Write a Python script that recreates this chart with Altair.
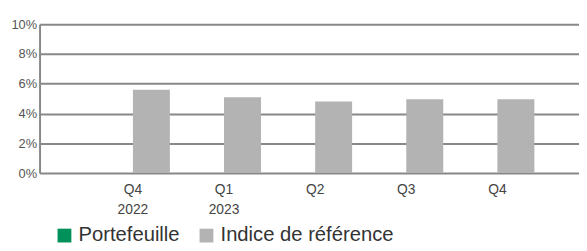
import altair as alt
import pandas as pd

quarters = ["Q4|2022", "Q1|2023", "Q2", "Q3", "Q4"]
series = ["Portefeuille", "Indice de référence"]
portefeuille = [None, None, None, None, None]
indice = [5.6, 5.1, 4.8, 4.95, 4.95]
colors = ["#00915A", "#B3B3B3"]

rows = []
for q, p, i in zip(quarters, portefeuille, indice):
    rows.append({"quarter": q, "series": series[0], "value": p})
    rows.append({"quarter": q, "series": series[1], "value": i})
df = pd.DataFrame(rows)

FONT = "Liberation Sans"

chart = alt.Chart(df).mark_bar().encode(
    x=alt.X("quarter:N", sort=quarters, title=None,
            scale=alt.Scale(paddingInner=0, paddingOuter=0.46, align=0.57),
            axis=alt.Axis(labelExpr="split(datum.label, '|')", labelAngle=0,
                          domain=False, ticks=False, labelPadding=10,
                          labelFont=FONT, labelFontSize=14, labelColor="#444444",
                          labelLineHeight=20, labelBaseline="top")),
    xOffset=alt.XOffset("series:N", sort=series,
                        scale=alt.Scale(domain=series, paddingInner=0, paddingOuter=0.232)),
    y=alt.Y("value:Q", title=None,
            scale=alt.Scale(domain=[0, 10], nice=False),
            axis=alt.Axis(values=[0, 2, 4, 6, 8, 10], labelExpr="datum.value + '%'",
                          ticks=False, domain=True, domainColor="#888888", domainWidth=2,
                          grid=True, gridColor="#888888", gridWidth=2,
                          labelPadding=3, labelFont=FONT, labelFontSize=13,
                          labelColor="#555555")),
    color=alt.Color("series:N", sort=series,
                    scale=alt.Scale(domain=series, range=colors),
                    legend=alt.Legend(title=None, orient="none", direction="horizontal",
                                      legendX=15, legendY=204, symbolType="square",
                                      symbolSize=196, symbolStrokeWidth=0,
                                      labelFont=FONT, labelFontSize=20.5,
                                      labelColor="#333333", labelOffset=4,
                                      labelLimit=500, columnPadding=16,
                                      symbolOpacity=1)),
).properties(
    width=547, height=151,
    autosize=alt.AutoSizeParams(type="none"),
    padding={"left": 32, "top": 14.7, "right": 0, "bottom": 77},
).configure_view(stroke=None)

chart.save("out.html", embed_options={"renderer": "svg", "actions": False})
